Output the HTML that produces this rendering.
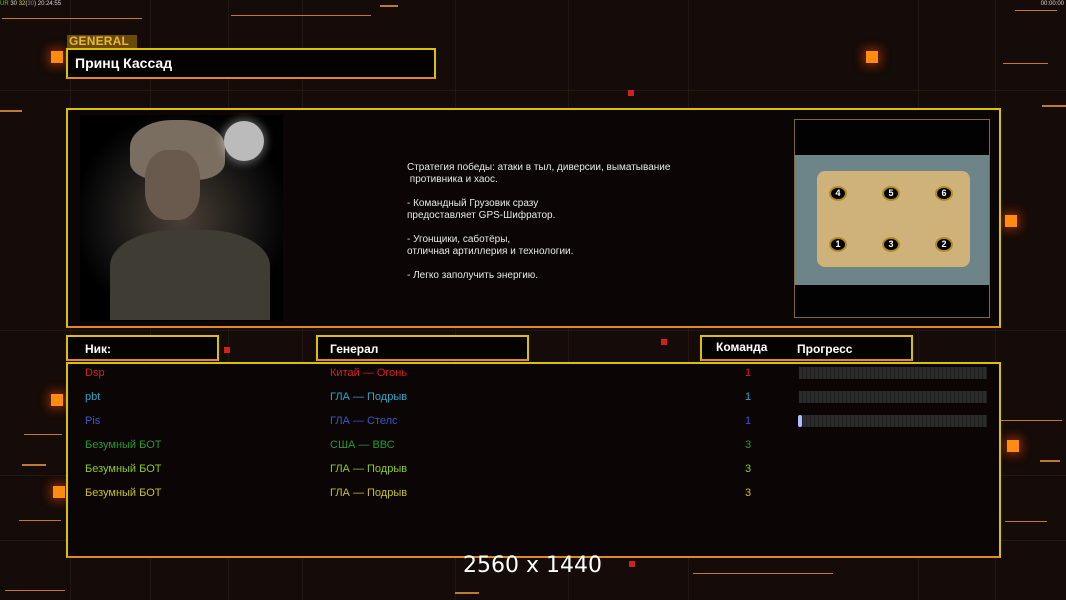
<!DOCTYPE html>
<html><head><meta charset="utf-8"><style>
*{margin:0;padding:0;box-sizing:border-box}
body{width:1066px;height:600px;background:#150b08;position:relative;overflow:hidden;font-family:"Liberation Sans","DejaVu Sans",sans-serif}
.a{position:absolute}
.ln{position:absolute;height:2px;background:#c07a30}
.vl{position:absolute;width:1px;background:#241611;top:0;height:600px}
.hl{position:absolute;height:1px;background:#241611;left:0;width:1066px}
.sq{position:absolute;background:#ff8c10;box-shadow:0 0 10px 3px rgba(255,80,0,.45)}
.box{position:absolute;border:2px solid #d9c300;border-bottom-color:#e08a20;background:#050202}
.hd{position:absolute;color:#fff;font-weight:bold;font-size:12px}
.r{position:absolute;font-size:11px}
.bar{position:absolute;left:799px;width:188px;height:12px;background:repeating-linear-gradient(90deg,#2c2c2c 0 3px,#1e1e1e 3px 4px)}
.desc{position:absolute;left:407px;top:162px;color:#e8e8e8;font-size:10px;line-height:12px;white-space:pre}
.n{position:absolute;font-size:9px;color:#fff;font-weight:bold;background:#000;border:2px solid #b08a20;border-radius:50%;width:18px;height:15px;text-align:center;line-height:11px}
</style></head><body>
<div class="vl" style="left:70px"></div><div class="vl" style="left:150px"></div><div class="vl" style="left:228px"></div><div class="vl" style="left:302px"></div><div class="vl" style="left:455px"></div><div class="vl" style="left:568px"></div><div class="vl" style="left:688px"></div><div class="vl" style="left:918px"></div><div class="vl" style="left:995px"></div>
<div class="hl" style="top:90px"></div><div class="hl" style="top:330px"></div><div class="hl" style="top:475px"></div><div class="hl" style="top:540px"></div>
<div class="a" style="left:0;top:1px;font-size:6px;color:#ddd;white-space:pre"><span style="color:#6c3">UR</span> 30 <span style="color:#dd3">32</span>(<span style="color:#888">30</span>) 20:24:55</div>
<div class="a" style="right:2px;top:1px;font-size:6px;color:#ddd">00:00:00</div>
<div class="ln" style="left:2px;top:18px;width:140px;height:1px"></div>
<div class="ln" style="left:231px;top:15px;width:140px;height:1px"></div>
<div class="ln" style="left:380px;top:5px;width:18px"></div>
<div class="ln" style="left:1015px;top:10px;width:42px;height:1px"></div>
<div class="ln" style="left:1003px;top:63px;width:45px;height:1px"></div>
<div class="ln" style="left:1042px;top:105px;width:24px"></div>
<div class="ln" style="left:0;top:110px;width:22px"></div>
<div class="ln" style="left:24px;top:434px;width:38px;height:1px"></div>
<div class="ln" style="left:22px;top:464px;width:24px"></div>
<div class="ln" style="left:19px;top:520px;width:42px;height:1px"></div>
<div class="ln" style="left:5px;top:590px;width:60px;height:1px"></div>
<div class="ln" style="left:455px;top:592px;width:24px"></div>
<div class="ln" style="left:693px;top:573px;width:140px;height:1px"></div>
<div class="ln" style="left:1005px;top:521px;width:42px;height:1px"></div>
<div class="ln" style="left:1040px;top:460px;width:20px"></div>
<div class="ln" style="left:1000px;top:420px;width:62px;height:1px"></div>
<div class="sq" style="left:51px;top:51px;width:12px;height:12px"></div>
<div class="sq" style="left:866px;top:51px;width:12px;height:12px"></div>
<div class="sq" style="left:1005px;top:215px;width:12px;height:12px"></div>
<div class="sq" style="left:1007px;top:440px;width:12px;height:12px"></div>
<div class="sq" style="left:51px;top:394px;width:12px;height:12px"></div>
<div class="sq" style="left:53px;top:486px;width:12px;height:12px"></div>
<div class="a" style="left:628px;top:90px;width:6px;height:6px;background:#d02020"></div>
<div class="a" style="left:224px;top:347px;width:6px;height:6px;background:#d02020"></div>
<div class="a" style="left:661px;top:339px;width:6px;height:6px;background:#d02020"></div>
<div class="a" style="left:629px;top:561px;width:6px;height:6px;background:#d02020"></div>
<div class="a" style="left:67px;top:35px;width:70px;height:13px;background:#6a4a08;color:#e8b838;font-size:12px;line-height:13px;font-weight:bold;letter-spacing:0.2px;padding-left:2px">GENERAL</div>
<div class="box" style="left:66px;top:48px;width:370px;height:31px"></div>
<div class="hd" style="left:75px;top:55px;font-size:14px">Принц Кассад</div>
<div class="box" style="left:66px;top:108px;width:935px;height:220px;background:#0b0505"></div>
<div class="a" style="left:80px;top:115px;width:203px;height:206px;background:radial-gradient(circle at 50% 50%,#4a4038 0,#2b2620 30%,#111 55%,#000 75%)"></div>
<div class="a" style="left:130px;top:120px;width:95px;height:60px;border-radius:45% 45% 30% 30%;background:#7a6e60"></div>
<div class="a" style="left:145px;top:150px;width:55px;height:70px;border-radius:40%;background:#6a5a4e"></div>
<div class="a" style="left:110px;top:230px;width:160px;height:90px;border-radius:40% 40% 0 0;background:#3f3d33"></div>
<div class="a" style="left:224px;top:121px;width:40px;height:40px;border-radius:50%;background:#bbb;box-shadow:0 0 8px 3px rgba(255,255,255,.3)"></div>
<div class="desc">Стратегия победы: атаки в тыл, диверсии, выматывание
 противника и хаос.

- Командный Грузовик сразу
предоставляет GPS-Шифратор.

- Угонщики, саботёры,
отличная артиллерия и технологии.

- Легко заполучить энергию.</div>
<div class="a" style="left:794px;top:119px;width:196px;height:199px;background:#030202;border:1px solid #7a6a40"></div>
<div class="a" style="left:795px;top:155px;width:194px;height:130px;background:#6d8588"></div>
<div class="a" style="left:817px;top:171px;width:153px;height:96px;background:#cfb27a;border-radius:8px"></div>
<div class="n" style="left:829px;top:186px">4</div>
<div class="n" style="left:882px;top:186px">5</div>
<div class="n" style="left:935px;top:186px">6</div>
<div class="n" style="left:829px;top:237px">1</div>
<div class="n" style="left:882px;top:237px">3</div>
<div class="n" style="left:935px;top:237px">2</div>
<div class="box" style="left:66px;top:335px;width:153px;height:26px"></div>
<div class="hd" style="left:85px;top:342px">Ник:</div>
<div class="box" style="left:316px;top:335px;width:213px;height:26px"></div>
<div class="hd" style="left:330px;top:342px">Генерал</div>
<div class="box" style="left:700px;top:335px;width:213px;height:26px"></div>
<div class="hd" style="left:716px;top:340px">Команда</div>
<div class="hd" style="left:797px;top:342px">Прогресс</div>
<div class="box" style="left:66px;top:362px;width:935px;height:196px;background:#0b0505"></div>
<div class="r" style="left:85px;top:367px;color:#d42020">Dsp</div><div class="r" style="left:330px;top:367px;color:#d42020">Китай — Огонь</div><div class="r" style="left:745px;top:367px;color:#d42020">1</div><div class="bar" style="top:367px"></div>
<div class="r" style="left:85px;top:391px;color:#2aa8c8">pbt</div><div class="r" style="left:330px;top:391px;color:#2aa8c8">ГЛА — Подрыв</div><div class="r" style="left:745px;top:391px;color:#2aa8c8">1</div><div class="bar" style="top:391px"></div>
<div class="r" style="left:85px;top:415px;color:#3b56c8">Pis</div><div class="r" style="left:330px;top:415px;color:#3b56c8">ГЛА — Стелс</div><div class="r" style="left:745px;top:415px;color:#3b56c8">1</div><div class="bar" style="top:415px"></div><div class="a" style="left:798px;top:415px;width:4px;height:12px;background:#aac0ff;border-radius:2px"></div>
<div class="r" style="left:85px;top:439px;color:#2a9a2a">Безумный БОТ</div><div class="r" style="left:330px;top:439px;color:#2a9a2a">США — ВВС</div><div class="r" style="left:745px;top:439px;color:#2a9a2a">3</div>
<div class="r" style="left:85px;top:463px;color:#8ccc20">Безумный БОТ</div><div class="r" style="left:330px;top:463px;color:#8ccc20">ГЛА — Подрыв</div><div class="r" style="left:745px;top:463px;color:#8ccc20">3</div>
<div class="r" style="left:85px;top:487px;color:#c8c020">Безумный БОТ</div><div class="r" style="left:330px;top:487px;color:#c8c020">ГЛА — Подрыв</div><div class="r" style="left:745px;top:487px;color:#c8c020">3</div>
<div class="a" style="left:463px;top:553px;color:#fff;font-size:22px;font-family:'DejaVu Sans','Liberation Sans',sans-serif">2560 x 1440</div>
</body></html>
